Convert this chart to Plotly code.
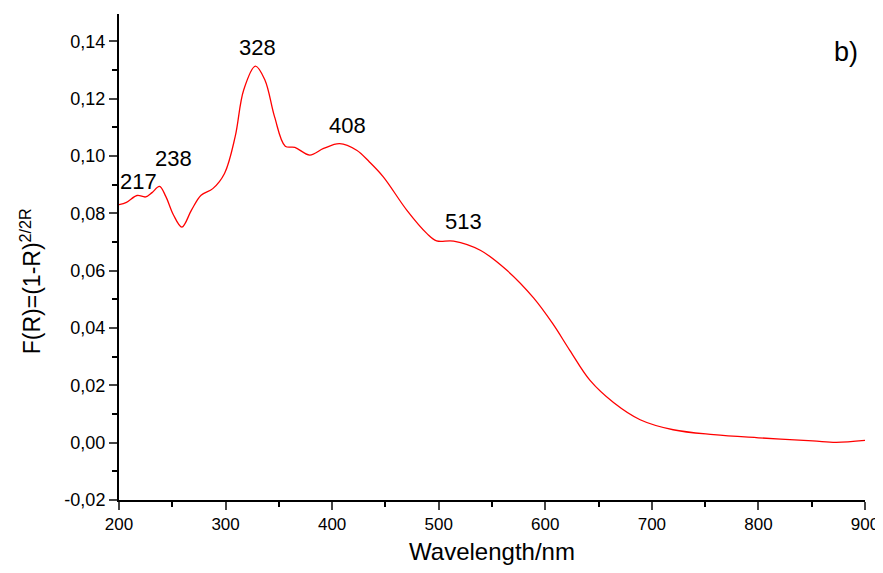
import plotly.graph_objects as go

wavelength = [200, 207, 217, 225, 231, 238, 244, 251, 259, 268, 277, 288, 299, 309, 317,
              328, 337, 346, 356, 365, 379, 392, 407, 423, 435, 448, 470, 489, 498, 514,
              539, 564, 589, 607, 623, 642, 664, 689, 720, 758, 800, 851, 873, 900]
f_r = [0.0830, 0.0838, 0.0862, 0.0857, 0.0872, 0.0894, 0.0858, 0.0795, 0.0752, 0.0811,
       0.0863, 0.0886, 0.0939, 0.1067, 0.1230, 0.1313, 0.1264, 0.1136, 0.1034, 0.1030,
       0.1003, 0.1026, 0.1043, 0.1020, 0.0979, 0.0927, 0.0811, 0.0729, 0.0704, 0.0703,
       0.0671, 0.0601, 0.0505, 0.0415, 0.0322, 0.0217, 0.0140, 0.0080, 0.0045, 0.0028,
       0.0017, 0.0006, 0.0001, 0.0008]

peak_labels = ["217", "238", "328", "408", "513"]
label_x = [218, 251.5, 329.5, 414, 523]
label_y = [0.0912, 0.0992, 0.1378, 0.1105, 0.0772]

x_ticks = [200, 300, 400, 500, 600, 700, 800, 900]
y_ticks = [-0.02, 0.00, 0.02, 0.04, 0.06, 0.08, 0.10, 0.12, 0.14]
y_tick_text = [f"{v:.2f}".replace(".", ",") for v in y_ticks]

font = "Liberation Sans, Arial, sans-serif"

fig = go.Figure()
fig.add_trace(go.Scatter(x=wavelength, y=f_r, mode="lines",
                         line=dict(color="#ff0000", width=1.3, shape="spline", smoothing=1.0),
                         showlegend=False, hoverinfo="skip"))

for lab, px, py in zip(peak_labels, label_x, label_y):
    fig.add_annotation(x=px, y=py, text=lab, showarrow=False,
                       font=dict(family=font, size=22, color="black"))

fig.add_annotation(x=882, y=0.1362, text="b)", showarrow=False,
                   font=dict(family=font, size=27, color="black"))

# y-axis title as a rotated annotation (centred like the reference, incl. superscript)
fig.add_annotation(xref="paper", x=0, xanchor="center", xshift=-88, y=0.0563,
                   text="F(R)=(1-R)<sup>2/2R</sup>", textangle=-90, showarrow=False,
                   font=dict(family=font, size=23, color="black"))

# page body has an 8px default margin; size the figure to compensate
fig.update_layout(
    width=875, height=565,
    margin=dict(l=111, r=18, t=6, b=73),
    paper_bgcolor="white", plot_bgcolor="white",
    font=dict(family=font, color="black"),
)
fig.update_xaxes(range=[200, 900], tickvals=x_ticks, ticks="outside", ticklen=8, tickwidth=2,
                 showline=True, linecolor="black", linewidth=2, showgrid=False, zeroline=False,
                 tickfont=dict(size=17, family=font), automargin=False,
                 minor=dict(dtick=50, tick0=200, ticks="outside", ticklen=5, tickwidth=2, tickcolor="black"),
                 title=dict(text="Wavelength/nm", font=dict(size=24, family=font), standoff=10))
fig.update_yaxes(range=[-0.02, 0.1495], tickvals=y_ticks, ticktext=y_tick_text, ticks="outside",
                 ticklen=8, tickwidth=2, automargin=False,
                 showline=True, linecolor="black", linewidth=2, showgrid=False, zeroline=False,
                 tickfont=dict(size=18, family=font),
                 minor=dict(dtick=0.01, tick0=0, ticks="outside", ticklen=5, tickwidth=2, tickcolor="black"))

fig.write_html("out.html")
